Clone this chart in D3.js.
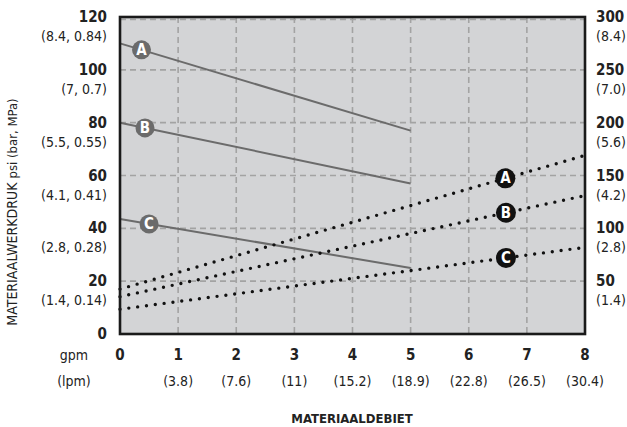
<!DOCTYPE html>
<html lang="nl">
<head>
<meta charset="utf-8">
<title>Materiaaldebiet</title>
<script src="https://d3js.org/d3.v7.min.js"></script>
<style>
body { margin: 0; background: #fff; }
svg text { font-family: "Liberation Sans Narrow", "DejaVu Sans Condensed", "Roboto Condensed", sans-serif; font-stretch: condensed; fill: #222; }
.num { font-weight: bold; font-size: 15px; }
.sub { font-size: 14px; }
</style>
</head>
<body>
<div id="chart"></div>
<script>
// gpm ticks along the bottom, with lpm underneath
const gpmTicks = [0, 1, 2, 3, 4, 5, 6, 7, 8];
const lpmLabels = ["", "(3.8)", "(7.6)", "(11)", "(15.2)", "(18.9)", "(22.8)", "(26.5)", "(30.4)"];

// left axis: psi (bar, MPa)
const psiTicks = [0, 20, 40, 60, 80, 100, 120];
const psiSub = ["", "(1.4, 0.14)", "(2.8, 0.28)", "(4.1, 0.41)", "(5.5, 0.55)", "(7, 0.7)", "(8.4, 0.84)"];

// right axis
const rightTicks = [50, 100, 150, 200, 250, 300];
const rightSub = ["(1.4)", "(2.8)", "(4.2)", "(5.6)", "(7.0)", "(8.4)"];

// solid lines: materiaalwerkdruk (psi) vs gpm
const pressureNames = ["A", "B", "C"];
const pressureA = [[0, 110], [5, 77]];
const pressureB = [[0, 80], [5, 57]];
const pressureC = [[0, 43.5], [5, 25]];

// dotted lines, right axis
const airA = [[0, 42.5], [8, 169]];
const airB = [[0, 35.3], [8, 131]];
const airC = [[0, 23.4], [8, 82]];

const pressureLabelAt = [0.37, 0.43, 0.5];
const airLabelAt = [6.63, 6.64, 6.64];

const width = 627, height = 427;
const svg = d3.select("#chart").append("svg")
    .attr("width", width)
    .attr("height", height);

const x = d3.scaleLinear().domain([0, 8]).range([120, 585]);
const y = d3.scaleLinear().domain([0, 120]).range([334, 17]);
const yR = d3.scaleLinear().domain([0, 300]).range([334, 17]);

// plot background
svg.append("rect")
    .attr("x", x(0)).attr("y", y(120))
    .attr("width", x(8) - x(0)).attr("height", y(0) - y(120))
    .attr("fill", "#d3d4d6");

// grid
const grid = svg.append("g").attr("stroke", "#a3a3a3").attr("stroke-width", 1.6).attr("stroke-dasharray", "6,4");
grid.selectAll(".gx").data(gpmTicks.slice(1, -1)).enter().append("line")
    .attr("x1", d => x(d)).attr("x2", d => x(d))
    .attr("y1", y(120)).attr("y2", y(0));
grid.selectAll(".gy").data(psiTicks.slice(1)).enter().append("line")
    .attr("x1", x(0)).attr("x2", x(8))
    .attr("y1", d => y(d) + (d === 120 ? 2.5 : 0)).attr("y2", d => y(d) + (d === 120 ? 2.5 : 0));

// solid pressure lines
const line = d3.line().x(d => x(d[0])).y(d => y(d[1]));
const lineR = d3.line().x(d => x(d[0])).y(d => yR(d[1]));
const pressures = [pressureA, pressureB, pressureC];
const airs = [airA, airB, airC];

svg.selectAll(".pline").data(pressures).enter().append("path")
    .attr("d", line)
    .attr("fill", "none")
    .attr("stroke", "#6b6b6b")
    .attr("stroke-width", 2);

svg.selectAll(".aline").data(airs).enter().append("path")
    .attr("d", lineR)
    .attr("fill", "none")
    .attr("stroke", "#111")
    .attr("stroke-width", 3.4)
    .attr("stroke-linecap", "round")
    .attr("stroke-dasharray", "0,8.9");

function valueAt(pts, g) {
    const t = (g - pts[0][0]) / (pts[1][0] - pts[0][0]);
    return pts[0][1] + t * (pts[1][1] - pts[0][1]);
}

// markers
pressures.forEach(function (pts, i) {
    const cx = x(pressureLabelAt[i]), cy = y(valueAt(pts, pressureLabelAt[i]));
    svg.append("circle").attr("cx", cx).attr("cy", cy).attr("r", 9.5).attr("fill", "#6b6b6b");
    svg.append("text").attr("x", cx).attr("y", cy + 5).attr("text-anchor", "middle")
        .attr("class", "num").style("fill", "#fff").text(pressureNames[i]);
});
airs.forEach(function (pts, i) {
    const cx = x(airLabelAt[i]), cy = yR(valueAt(pts, airLabelAt[i]));
    svg.append("circle").attr("cx", cx).attr("cy", cy).attr("r", 10).attr("fill", "#111");
    svg.append("text").attr("x", cx).attr("y", cy + 5).attr("text-anchor", "middle")
        .attr("class", "num").style("fill", "#fff").text(pressureNames[i]);
});

// frame
svg.append("rect")
    .attr("x", x(0)).attr("y", y(120))
    .attr("width", x(8) - x(0)).attr("height", y(0) - y(120))
    .attr("fill", "none").attr("stroke", "#1a1a1a").attr("stroke-width", 2.6);

// left axis labels
psiTicks.forEach(function (d, i) {
    svg.append("text").attr("class", "num").attr("x", 107).attr("y", y(d) + 5)
        .attr("text-anchor", "end").text(d);
    if (psiSub[i]) {
        svg.append("text").attr("class", "sub").attr("x", 107).attr("y", y(d) + 24)
            .attr("text-anchor", "end").text(psiSub[i]);
    }
});

// right axis labels
rightTicks.forEach(function (d, i) {
    svg.append("text").attr("class", "num").attr("x", 596).attr("y", yR(d) + 5).text(d);
    svg.append("text").attr("class", "sub").attr("x", 596).attr("y", yR(d) + 24).text(rightSub[i]);
});

// bottom axis labels
gpmTicks.forEach(function (d, i) {
    svg.append("text").attr("class", "num").attr("x", x(d)).attr("y", 360)
        .attr("text-anchor", "middle").text(d);
    if (lpmLabels[i]) {
        svg.append("text").attr("class", "sub").attr("x", x(d)).attr("y", 386)
            .attr("text-anchor", "middle").text(lpmLabels[i]);
    }
});
svg.append("text").attr("class", "sub").attr("x", 74).attr("y", 360).attr("text-anchor", "middle").text("gpm");
svg.append("text").attr("class", "sub").attr("x", 74).attr("y", 386).attr("text-anchor", "middle").text("(lpm)");

// titles
svg.append("text").attr("class", "num").attr("x", 352).attr("y", 423)
    .attr("text-anchor", "middle").style("font-size", "13px").text("MATERIAALDEBIET");

const yt = svg.append("text").attr("transform", "translate(17,212) rotate(-90)")
    .attr("text-anchor", "middle").style("font-size", "14px");
yt.append("tspan").text("MATERIAALWERKDRUK ");
yt.append("tspan").style("font-size", "13px").text("psi (bar, MPa)");
</script>
</body>
</html>
